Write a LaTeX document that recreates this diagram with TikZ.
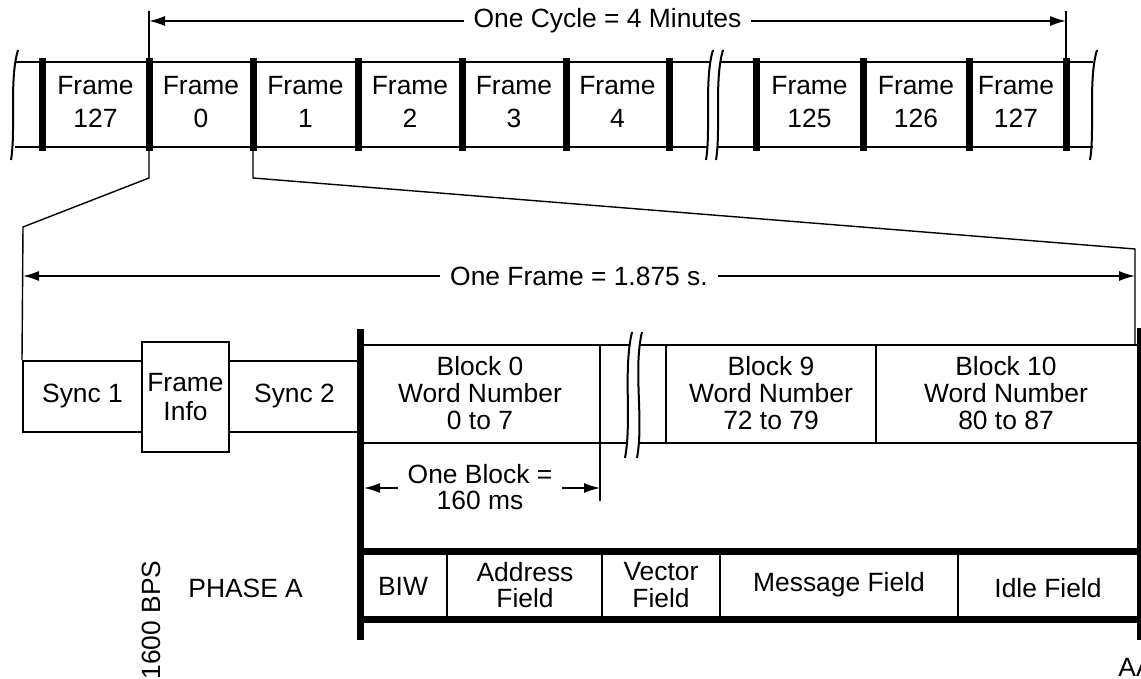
\documentclass[tikz,border=0pt]{standalone}
\usepackage{fontspec}
\setmainfont{Liberation Sans}
\usetikzlibrary{arrows.meta,positioning}

\begin{document}
\begin{tikzpicture}[
  x=0.5pt,y=-0.5pt,
  lbl/.style={align=center,font=\fontsize{13.2}{16.5}\selectfont,inner sep=0pt},
  fld/.style={align=center,font=\fontsize{13.2}{13.4}\selectfont,inner sep=0pt},
  cell/.style={draw,line width=1pt,inner sep=0pt,align=center,
    font=\fontsize{13.2}{14.5}\selectfont},
  bar/.style={line width=3.5pt},
  rule/.style={line width=1pt},
  thin/.style={line width=0.7pt},
  wavy/.style={line width=1pt},
  dim/.style={{Latex[length=8pt,width=5pt]}-{Latex[length=8pt,width=5pt]},line width=0.7pt},
  gap/.style={fill=white,inner xsep=5pt,inner ysep=1pt,align=center,
    font=\fontsize{13.2}{13.4}\selectfont}
]
\useasboundingbox (0,0) rectangle (1141,679);

\coordinate (stripTL) at (15,62);   \coordinate (stripTR) at (1093,62);
\coordinate (stripBL) at (15,147);  \coordinate (stripBR) at (1093,147);
\draw[rule] (stripTL) -- (stripTR);
\draw[rule] (stripBL) -- (stripBR);
\foreach \x [count=\i] in {42,149,253,358,462,566,669,756,863,969,1066}
  \draw[bar] (\x,58) coordinate (bt\i) -- (\x,151) coordinate (bb\i);
\foreach \x/\t [count=\i] in {95.5/127,201/0,305.5/1,410/2,514/3,617.5/4,809.5/125,916/126,1016/127}
  \node[lbl] (frame\i) at (\x,102) {Frame\\\t};

\draw[wavy] (18,50) .. controls (9,80) and (16,130) .. (11,160);
\draw[wavy] (1097,50) .. controls (1088,80) and (1095,130) .. (1090,160);
\fill[white] (713,50) .. controls (704,80) and (711,130) .. (706,160)
  -- (716,160) .. controls (721,130) and (714,80) .. (723,50) -- cycle;
\draw[wavy] (713,50) .. controls (704,80) and (711,130) .. (706,160);
\draw[wavy] (723,50) .. controls (714,80) and (721,130) .. (716,160);

\coordinate (cycL) at (149,21); \coordinate (cycR) at (1066,21);
\draw[thin] (149,11) -- (bt2);
\draw[thin] (1066,11) -- (bt11);
\draw[dim] (cycL) -- node[gap] (cycle) {One Cycle = 4 Minutes} (cycR);

\node[cell,minimum width=59.5pt,minimum height=35.5pt] (sync1) at (82.5,396.5) {Sync 1};
\node[cell,minimum width=43.5pt,minimum height=55pt] (info) at (185.5,397) {Frame\\Info};
\node[cell,minimum width=65.5pt,minimum height=35.5pt] (sync2) at (294.5,396.5) {Sync 2};

\coordinate (zl1) at (149,178); \coordinate (zl2) at (23,227);
\coordinate (zr1) at (253,178); \coordinate (zr2) at (1135,249);
\coordinate (zr3) at (1135,345);
\draw[thin] (bb2) -- (zl1) -- (zl2) -- (sync1.north west);
\draw[thin] (bb3) -- (zr1) -- (zr2) -- (zr3);

\coordinate (frmL) at (23,276); \coordinate (frmR) at (1135,276);
\draw[dim] (frmL) -- node[gap] (oneframe) {One Frame = 1.875 s.} (frmR);

\draw[rule] (360,345) -- (1137,345);
\draw[rule] (360,443) -- (1137,443);
\foreach \x in {600,666,876}
  \draw[rule] (\x,345) -- (\x,443);
\fill[white] (632,332) .. controls (623,370) and (632,420) .. (625,458)
  -- (637,458) .. controls (644,420) and (635,370) .. (642,332) -- cycle;
\draw[wavy] (632,332) .. controls (623,370) and (632,420) .. (625,458);
\draw[wavy] (642,332) .. controls (633,370) and (644,420) .. (637,458);
\node[fld] (block0) at (480,393) {Block 0\\Word Number\\0 to 7};
\node[fld] (block9) at (771,393) {Block 9\\Word Number\\72 to 79};
\node[fld] (block10) at (1006,393) {Block 10\\Word Number\\80 to 87};

\coordinate (blkL) at (364,488); \coordinate (blkR) at (600,488);
\draw[thin] (600,443) -- (600,501);
\draw[dim] (blkL) -- (blkR);
\node[gap] (oneblock) at (480,487) {One Block =\\160 ms};

\draw[bar] (360,551) -- (1140,551);
\draw[bar] (360,619) -- (1140,619);
\foreach \x in {447,602,720,958}
  \draw[thin] (\x,551) -- (\x,619);
\node[fld] (biw) at (403,586) {BIW};
\node[fld] (addr) at (525,585) {Address\\Field};
\node[fld] (vec) at (661,585) {Vector\\Field};
\node[fld] (msg) at (839,585) {Message Field};
\node[fld] (idle) at (1048,588) {Idle Field};

\draw[bar] (360,329) -- (360,640);
\draw[bar] (1140,328) -- (1140,640);

\node[fld,anchor=west] (phase) at (188,588) {PHASE A};
\node[fld,rotate=90] (bps) at (151,620) {1600 BPS};
\node[fld,anchor=west] (tag) at (1118,667) {AA};
\end{tikzpicture}
\end{document}
